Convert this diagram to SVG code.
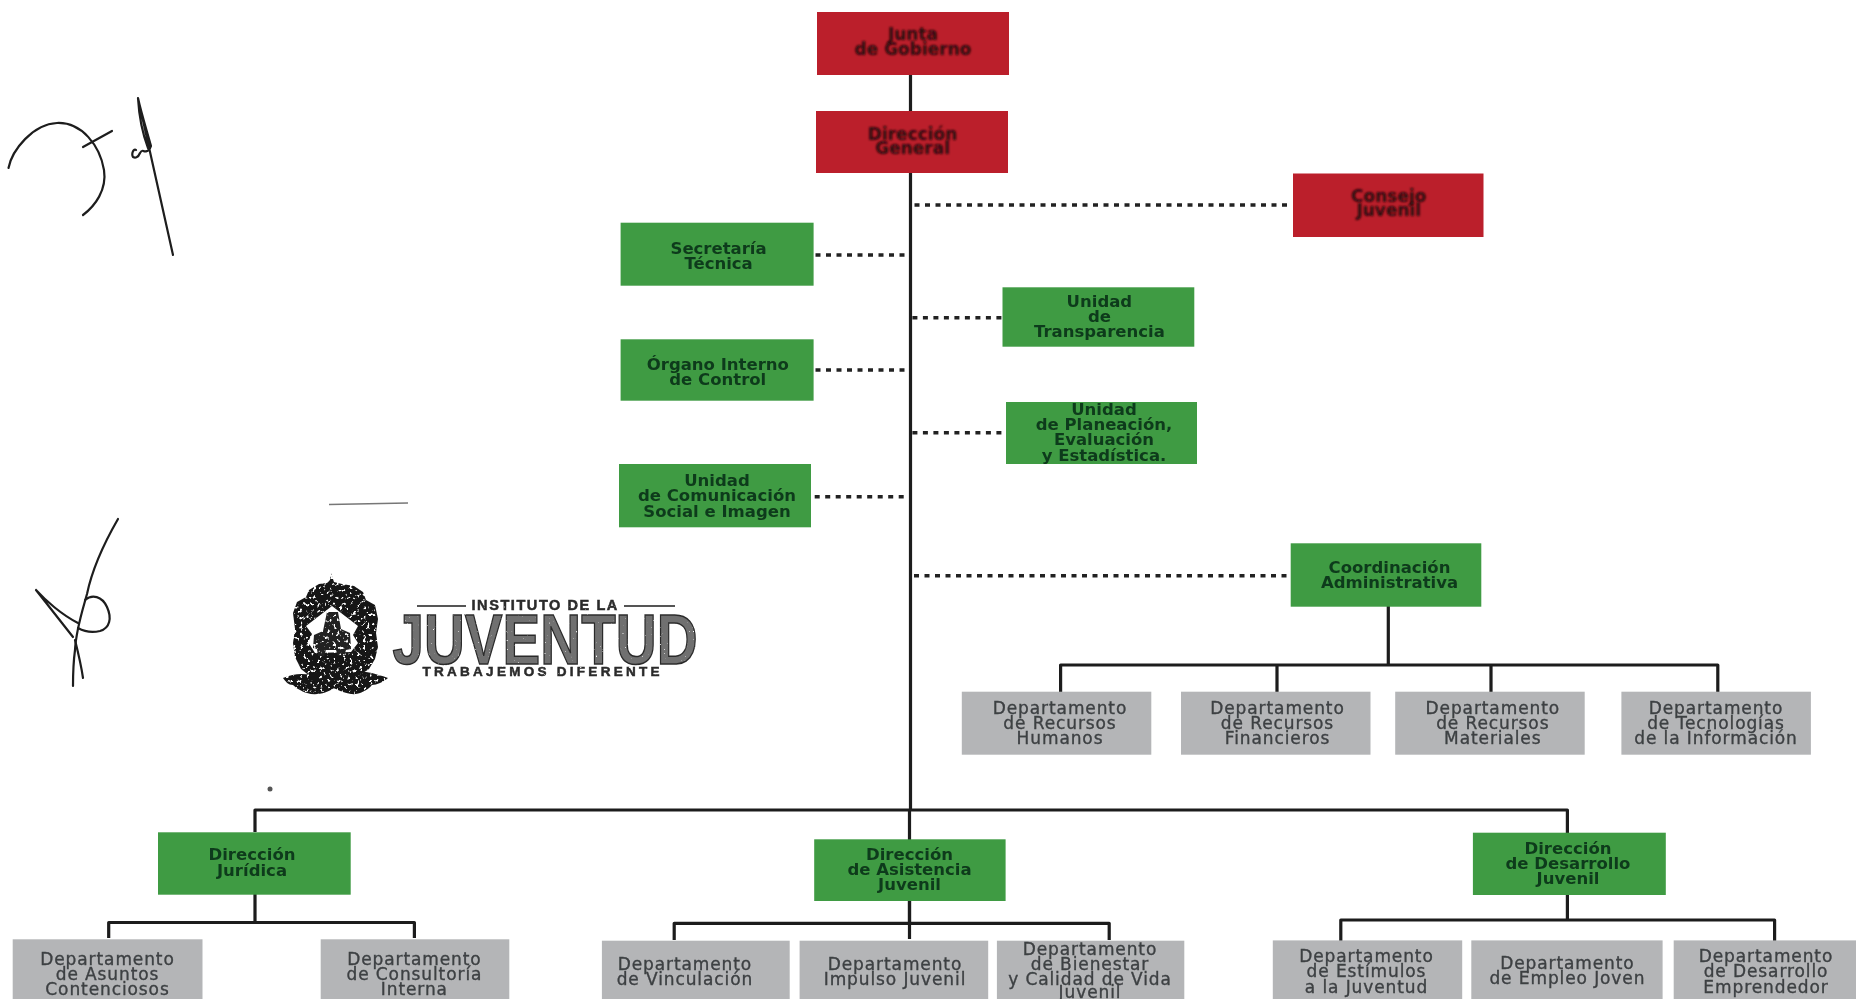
<svg xmlns="http://www.w3.org/2000/svg" width="1856" height="999" viewBox="0 0 1856 999">
<style>
text{font-family:"DejaVu Sans","Liberation Sans",sans-serif;text-anchor:middle}
.r{fill:#bb1f2b}.g{fill:#3f9b43}.d{fill:#b4b5b7}
.tr{font-size:17px;font-weight:700;fill:#2a080b;filter:url(#b2)}
.tg{font-size:16.5px;font-weight:700;fill:#0e3a1a;filter:url(#b1)}
.td{font-size:17px;letter-spacing:.9px;fill:#3d4043;stroke:#3d4043;stroke-width:.35;filter:url(#b1)}
.solid{fill:none;stroke:#1c1c1c;stroke-width:3.2;stroke-linejoin:round}
.dot{fill:none;stroke:#222;stroke-width:3.6;stroke-dasharray:5 5.5}
.sig{fill:none;stroke:#1d1d1d;stroke-width:2.2;stroke-linecap:round;stroke-linejoin:round}
.lg{font-family:"Liberation Sans",sans-serif;font-weight:700}
</style>
<defs>
<filter id="b1" x="-5%" y="-20%" width="110%" height="140%"><feGaussianBlur stdDeviation=".55"/></filter>
<filter id="b2" x="-5%" y="-20%" width="110%" height="140%"><feGaussianBlur stdDeviation=".95"/></filter>
<filter id="grit" x="-5%" y="-5%" width="110%" height="110%">
<feTurbulence type="fractalNoise" baseFrequency=".3" numOctaves="2" seed="7" result="n"/>
<feColorMatrix in="n" type="matrix" values="0 0 0 0 0 0 0 0 0 0 0 0 0 0 0 0 0 0 -9 6.4" result="m"/>
<feComposite in="SourceGraphic" in2="m" operator="in"/>
<feGaussianBlur stdDeviation=".4"/>
</filter>
<filter id="grit2" x="-5%" y="-20%" width="110%" height="140%">
<feTurbulence type="fractalNoise" baseFrequency=".45" numOctaves="2" seed="3" result="n"/>
<feColorMatrix in="n" type="matrix" values="0 0 0 0 0 0 0 0 0 0 0 0 0 0 0 0 0 0 -6 5.4" result="m"/>
<feComposite in="SourceGraphic" in2="m" operator="in"/>
<feGaussianBlur stdDeviation=".45"/>
</filter>
</defs>
<rect width="1856" height="999" fill="#fff"/>

<g id="connectors">
<path class="solid" d="M910.500 75V111M910.500 172V810M909.500 810V939"/>
<path class="solid" d="M255 832V810H1567.400V833"/>
<path class="solid" d="M255 894V922.500M108.700 938V922.500H414.400V938"/>
<path class="solid" d="M909.500 900V923.300M674.200 940V923.300H1109.200V940"/>
<path class="solid" d="M1567.400 894V921M1340.800 941V920H1774.600V941"/>
<path class="solid" d="M1388.300 606V665M1060.600 692V665H1717.800V692M1277 665V692M1491 665V692"/>
<path class="dot" d="M914.500 205H1292"/>
<path class="dot" d="M815.500 255H907"/>
<path class="dot" d="M912.400 317.700H1002"/>
<path class="dot" d="M815.500 370H907"/>
<path class="dot" d="M912.400 432.700H1006"/>
<path class="dot" d="M814.700 496.700H905"/>
<path class="dot" d="M914 575.700H1289"/>
</g>

<g id="junta-de-gobierno"><rect class="r" x="817" y="12" width="192" height="63"/><text class="tr" x="913" y="40">Junta</text><text class="tr" x="913" y="55">de Gobierno</text></g>
<g id="direccion-general"><rect class="r" x="816" y="111" width="192" height="62"/><text class="tr" x="912.600" y="139.500">Dirección</text><text class="tr" x="912.600" y="153.500">General</text></g>
<g id="consejo-juvenil"><rect class="r" x="1293" y="173.500" width="190.500" height="63.500"/><text class="tr" x="1388.800" y="202">Consejo</text><text class="tr" x="1388.800" y="216">Juvenil</text></g>
<g id="secretaria-tecnica"><rect class="g" x="620.600" y="222.700" width="193" height="63"/><text class="tg" x="718.600" y="253.700">Secretaría</text><text class="tg" x="718.600" y="269.300">Técnica</text></g>
<g id="organo-interno"><rect class="g" x="620.600" y="339.300" width="193" height="61.400"/><text class="tg" x="717.800" y="370">Órgano Interno</text><text class="tg" x="717.800" y="385">de Control</text></g>
<g id="unidad-comunicacion"><rect class="g" x="619" y="464" width="192" height="63.300"/><text class="tg" x="717" y="486">Unidad</text><text class="tg" x="717" y="501">de Comunicación</text><text class="tg" x="717" y="516.700">Social e Imagen</text></g>
<g id="unidad-transparencia"><rect class="g" x="1002.500" y="287.300" width="191.800" height="59.400"/><text class="tg" x="1099.400" y="307">Unidad</text><text class="tg" x="1099.400" y="322">de</text><text class="tg" x="1099.400" y="337">Transparencia</text></g>
<g id="unidad-planeacion"><rect class="g" x="1006" y="402" width="191" height="62"/><text class="tg" x="1104" y="415">Unidad</text><text class="tg" x="1104" y="430">de Planeación,</text><text class="tg" x="1104" y="445.300">Evaluación</text><text class="tg" x="1104" y="461">y Estadística.</text></g>
<g id="coordinacion-administrativa"><rect class="g" x="1290.700" y="543.300" width="190.600" height="63.400"/><text class="tg" x="1389.500" y="572.700">Coordinación</text><text class="tg" x="1389.500" y="588.300">Administrativa</text></g>

<g id="dep-recursos-humanos"><rect class="d" x="961.800" y="691.700" width="189.500" height="63"/><text class="td" x="1060" y="713.700">Departamento</text><text class="td" x="1060" y="728.700">de Recursos</text><text class="td" x="1060" y="743.700">Humanos</text></g>
<g id="dep-recursos-financieros"><rect class="d" x="1181" y="691.700" width="189.500" height="63"/><text class="td" x="1277.500" y="713.700">Departamento</text><text class="td" x="1277.500" y="728.700">de Recursos</text><text class="td" x="1277.500" y="743.700">Financieros</text></g>
<g id="dep-recursos-materiales"><rect class="d" x="1395.200" y="691.700" width="189.500" height="63"/><text class="td" x="1492.800" y="713.700">Departamento</text><text class="td" x="1492.800" y="728.700">de Recursos</text><text class="td" x="1492.800" y="743.700">Materiales</text></g>
<g id="dep-tecnologias"><rect class="d" x="1621.400" y="691.700" width="189.500" height="63"/><text class="td" x="1716" y="713.700">Departamento</text><text class="td" x="1716" y="728.700">de Tecnologías</text><text class="td" x="1716" y="743.700">de la Información</text></g>

<g id="direccion-juridica"><rect class="g" x="158" y="832.300" width="192.700" height="62.400"/><text class="tg" x="252" y="860">Dirección</text><text class="tg" x="252" y="876">Jurídica</text></g>
<g id="direccion-asistencia"><rect class="g" x="814.200" y="839.300" width="191.400" height="61.700"/><text class="tg" x="909.500" y="860">Dirección</text><text class="tg" x="909.500" y="875.300">de Asistencia</text><text class="tg" x="909.500" y="890.300">Juvenil</text></g>
<g id="direccion-desarrollo"><rect class="g" x="1472.900" y="832.700" width="192.900" height="62.300"/><text class="tg" x="1568" y="853.700">Dirección</text><text class="tg" x="1568" y="869.300">de Desarrollo</text><text class="tg" x="1568" y="884.300">Juvenil</text></g>

<g id="dep-asuntos"><rect class="d" x="12.700" y="939.300" width="189.800" height="60"/><text class="td" x="107.500" y="965">Departamento</text><text class="td" x="107.500" y="979.700">de Asuntos</text><text class="td" x="107.500" y="995">Contenciosos</text></g>
<g id="dep-consultoria"><rect class="d" x="320.700" y="939.300" width="188.600" height="60"/><text class="td" x="414.400" y="965">Departamento</text><text class="td" x="414.400" y="979.700">de Consultoría</text><text class="td" x="414.400" y="995">Interna</text></g>
<g id="dep-vinculacion"><rect class="d" x="601.900" y="940.700" width="187.800" height="59"/><text class="td" x="684.900" y="970">Departamento</text><text class="td" x="684.900" y="985">de Vinculación</text></g>
<g id="dep-impulso"><rect class="d" x="799.600" y="940.700" width="188.600" height="59"/><text class="td" x="895" y="970">Departamento</text><text class="td" x="895" y="985">Impulso Juvenil</text></g>
<g id="dep-bienestar"><rect class="d" x="996.900" y="940.700" width="187.400" height="59"/><text class="td" x="1090" y="955">Departamento</text><text class="td" x="1090" y="970">de Bienestar</text><text class="td" x="1090" y="985">y Calidad de Vida</text><text class="td" x="1090" y="998">Juvenil</text></g>
<g id="dep-estimulos"><rect class="d" x="1272.800" y="940.400" width="189.400" height="59"/><text class="td" x="1366.500" y="962">Departamento</text><text class="td" x="1366.500" y="976.700">de Estímulos</text><text class="td" x="1366.500" y="992.700">a la Juventud</text></g>
<g id="dep-empleo"><rect class="d" x="1471.300" y="940.400" width="191.300" height="59"/><text class="td" x="1567.400" y="969">Departamento</text><text class="td" x="1567.400" y="984">de Empleo Joven</text></g>
<g id="dep-emprendedor"><rect class="d" x="1673.700" y="940.400" width="182.300" height="59"/><text class="td" x="1766" y="962">Departamento</text><text class="td" x="1766" y="976.700">de Desarrollo</text><text class="td" x="1766" y="992.700">Emprendedor</text></g>

<g id="logo">
<g filter="url(#grit)" fill="#161616">
<path d="M331 573l3 9 8 2 12 2 9 6 3 8 9 5 3 14-2 14 2 14-3 12-6 10-12 8-10 6-8 6-7-1-9-6-12-5-10-8-6-12-2-14 2-14-2-16 4-11 9-5 3-7 10-6 8-1 3-3z"/>
<path d="M283 678c10-4 18-5 28-3 10 2 16 5 22 5 12-1 22-9 33-8 8 1 16 4 22 6-5 4-11 7-16 7-5 6-14 10-21 9-6-1-12-3-17-6-7 5-18 8-27 5-7-2-12-6-14-8-5 0-7-3-10-7z"/>
</g>
<path d="M332 606l26 20-5 9 5 8-7 9-36 1-7-11 4-8-6-8z" fill="#fff"/>
<g filter="url(#grit)" fill="#222"><path d="M327 612h11l3 17 9 4 1 16-5 1-2 6h-6l-2-6h-10l-2 6h-6l-1-7-4-1 1-13 9-4z"/></g>
<g filter="url(#grit2)">
<text class="lg" x="545" y="610" font-size="14.500" letter-spacing="1.200" fill="#2a2a2a" stroke="#2a2a2a" stroke-width=".5" textLength="147" style="font-family:'Liberation Sans',sans-serif">INSTITUTO DE LA</text>
<text class="lg" x="545" y="664" font-size="71" fill="#707070" stroke="#2c2c2c" stroke-width="1.500" textLength="305" lengthAdjust="spacingAndGlyphs" style="font-family:'Liberation Sans',sans-serif">JUVENTUD</text>
<text class="lg" x="541" y="676" font-size="13.500" fill="#2a2a2a" stroke="#2a2a2a" stroke-width=".5" textLength="237" style="font-family:'Liberation Sans',sans-serif">TRABAJEMOS DIFERENTE</text>
</g>
<path d="M417 606H466M624 606H675" stroke="#555" stroke-width="1.800" fill="none"/>
</g>

<g id="firmas">
<path class="sig" d="M8.500 168C12 150 33 124 57 123C82 122 100 146 104 170C107 190 95 206 83 215"/>
<path class="sig" d="M83 147L112 131"/>
<path class="sig" d="M138 98L173 255M138 98C141 112 146 128 151 146C150 150 149 150 147 151C143 153 143 148 140 153C138 158 135 158 133 157C131 153 134 148 136 150M138 98C139 115 143 135 148 148"/>
<path class="sig" d="M118 519C103 545 92 570 87 594C82 612 76 630 75 650C73 665 73 675 73 686"/>
<path class="sig" d="M36 590L73 637M36 590C45 600 62 615 78 623"/>
<path class="sig" d="M85 600C92 594 102 596 107 607C112 618 110 628 100 631C92 633 85 632 78 628"/>
<path class="sig" d="M75 640C78 652 81 664 83 678"/>
<path d="M329 504.500L408 503" stroke="#777" stroke-width="1.500" fill="none"/>
<circle cx="270" cy="789" r="2.500" fill="#555"/>
</g>
</svg>
